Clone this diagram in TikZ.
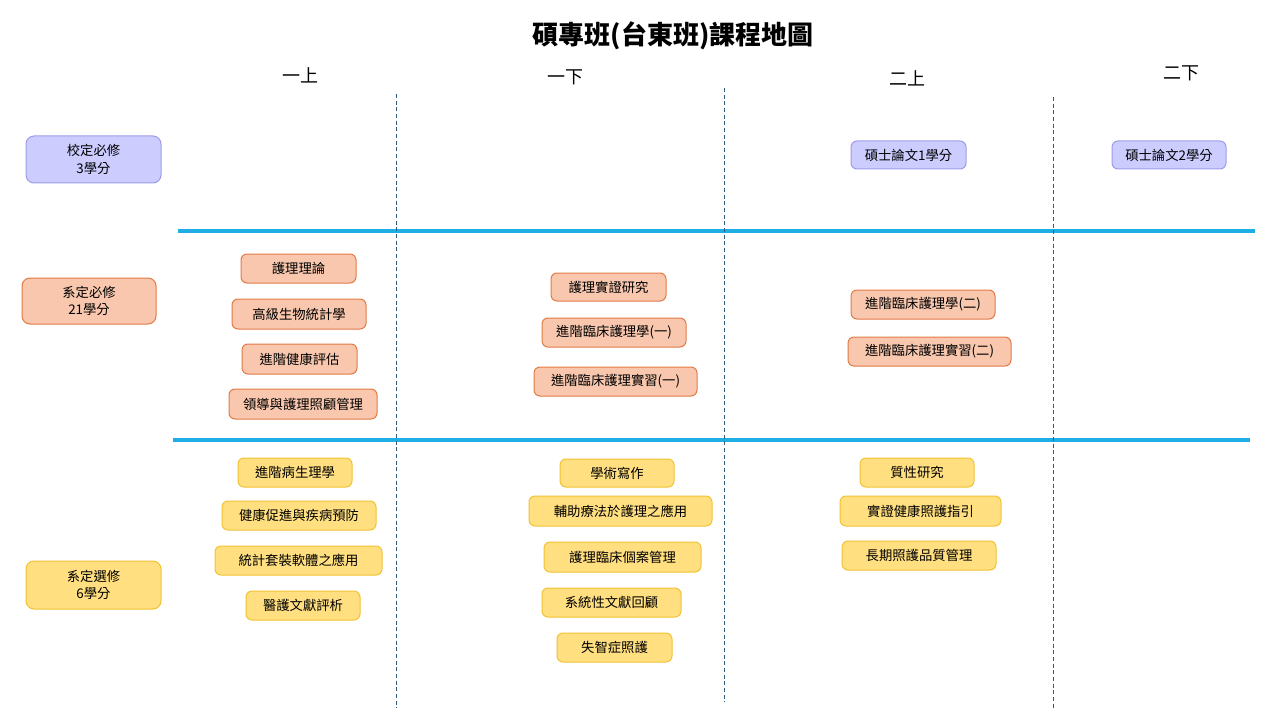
\documentclass[tikz,border=0pt]{standalone}
\usepackage{fontspec}
\setmainfont{Noto Sans CJK TC}
\definecolor{lavfill}{HTML}{CCCCFF}
\definecolor{lavdraw}{HTML}{9C9CE6}
\definecolor{peachfill}{HTML}{F8C7AE}
\definecolor{peachdraw}{HTML}{E27A45}
\definecolor{yelfill}{HTML}{FFDF80}
\definecolor{yeldraw}{HTML}{F2C232}
\definecolor{divblue}{HTML}{1DAEE3}
\definecolor{dashcol}{HTML}{2F5C7A}
\tikzset{
  box/.style={rounded corners=4.5pt, line width=0.75pt, inner sep=0pt, align=center, font=\fontsize{10}{12.5}\selectfont},
  bw/.style={minimum width=#1*0.75pt},
  bh/.style={minimum height=#1*0.75pt},
  pbox/.style={box, fill=lavfill, draw=lavdraw},
  rbox/.style={box, fill=peachfill, draw=peachdraw},
  ybox/.style={box, fill=yelfill, draw=yeldraw},
  catbox/.style={rounded corners=6pt, font=\fontsize{10}{13}\selectfont},
  divider/.style={draw=divblue, line width=2.5pt},
  semline/.style={draw=dashcol, line width=0.75pt, dash pattern=on 3pt off 2pt},
  header/.style={font=\fontsize{13.5}{16}\selectfont, inner sep=0pt},
}
\begin{document}
\begin{tikzpicture}[x=0.75pt, y=-0.75pt]
\useasboundingbox (0,0) rectangle (1280,720);
\fill[white] (0,0) rectangle (1280,720);

% title and headers
\node[font=\fontsize{19.5}{22}\selectfont\bfseries, inner sep=0pt] (title) at (673,36) {碩專班(台東班)課程地圖};
\node[header] (h1) at (300,75) {一上};
\node[header] (h2) at (565,77) {一下};
\node[header] (h3) at (907,78) {二上};
\node[header] (h4) at (1181,73) {二下};

% dividers
\coordinate (d1a) at (178,231); \coordinate (d1b) at (1255,231);
\coordinate (d2a) at (173,440); \coordinate (d2b) at (1250,440);
\draw[divider] (d1a) -- (d1b);
\draw[divider] (d2a) -- (d2b);
\coordinate (v1a) at (396,94); \coordinate (v1b) at (396,708);
\coordinate (v2a) at (724,88); \coordinate (v2b) at (724,702);
\coordinate (v3a) at (1053,97); \coordinate (v3b) at (1053,710);
\draw[semline] (v1a) -- (v1b);
\draw[semline] (v2a) -- (v2b);
\draw[semline] (v3a) -- (v3b);

% category boxes
\node[pbox, catbox, bw=135, bh=47] (c1) at (93.5,159.5) {校定必修\\3學分};
\node[rbox, catbox, bw=134, bh=46] (c2) at (89,301) {系定必修\\21學分};
\node[ybox, catbox, bw=135, bh=48] (c3) at (93.5,585) {系定選修\\6學分};

% column 1
\node[rbox, bw=115, bh=29] (r11) at (298.5,268.5) {護理理論};
\node[rbox, bw=134, bh=30] (r12) at (299,314) {高級生物統計學};
\node[rbox, bw=115, bh=30] (r13) at (299.5,359) {進階健康評估};
\node[rbox, bw=148, bh=30] (r14) at (303,404) {領導與護理照顧管理};
\node[ybox, bw=114, bh=29] (y11) at (295,472.5) {進階病生理學};
\node[ybox, bw=154, bh=29] (y12) at (299,515.5) {健康促進與疾病預防};
\node[ybox, bw=167, bh=29] (y13) at (298.5,560.5) {統計套裝軟體之應用};
\node[ybox, bw=114, bh=29] (y14) at (303,605.5) {醫護文獻評析};

% column 2
\node[rbox, bw=115, bh=28] (r21) at (608.5,287) {護理實證研究};
\node[rbox, bw=144, bh=29] (r22) at (614,332.5) {進階臨床護理學(一)};
\node[rbox, bw=163, bh=29] (r23) at (615.5,381.5) {進階臨床護理實習(一)};
\node[ybox, bw=114, bh=28] (y21) at (617,473) {學術寫作};
\node[ybox, bw=183, bh=30] (y22) at (620.5,511) {輔助療法於護理之應用};
\node[ybox, bw=157, bh=30] (y23) at (622.5,557) {護理臨床個案管理};
\node[ybox, bw=139, bh=29] (y24) at (611.5,602.5) {系統性文獻回顧};
\node[ybox, bw=115, bh=29] (y25) at (614.5,647.5) {失智症照護};

% column 3 and 4
\node[pbox, bw=115, bh=28] (p31) at (908.5,155) {碩士論文1學分};
\node[pbox, bw=114, bh=28] (p41) at (1169,155) {碩士論文2學分};
\node[rbox, bw=144, bh=29] (r31) at (923,304.5) {進階臨床護理學(二)};
\node[rbox, bw=163, bh=29] (r32) at (929.5,351.5) {進階臨床護理實習(二)};
\node[ybox, bw=114, bh=29] (y31) at (917,472.5) {質性研究};
\node[ybox, bw=161, bh=30] (y32) at (920.5,511) {實證健康照護指引};
\node[ybox, bw=154, bh=29] (y33) at (919,555.5) {長期照護品質管理};
\end{tikzpicture}
\end{document}
